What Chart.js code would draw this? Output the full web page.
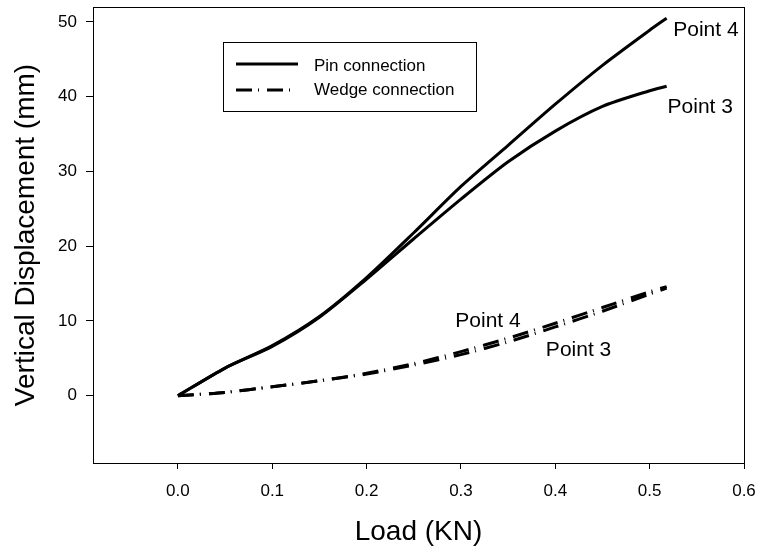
<!DOCTYPE html>
<html>
<head>
<meta charset="utf-8">
<script src="https://cdn.jsdelivr.net/npm/chart.js@4.4.1/dist/chart.umd.min.js"></script>
<style>
  html, body { margin: 0; padding: 0; background: #fff; }
  #wrap { width: 758px; height: 549px; position: relative; }
</style>
</head>
<body>
<div id="wrap"><canvas id="chart"></canvas></div>
<script>
// load values (KN)
const loads = [0, 0.05, 0.1, 0.15, 0.2, 0.25, 0.3, 0.35, 0.4, 0.45, 0.5, 0.518];

// vertical displacement (mm)
const pinPoint4 = [0, 3.7, 6.7, 10.6, 15.8, 21.8, 28.0, 33.5, 39.0, 44.2, 48.9, 50.5];
const pinPoint3 = [0, 3.7, 6.6, 10.5, 15.6, 21.0, 26.3, 31.3, 35.4, 38.7, 40.8, 41.4];
const wedgePoint4 = [0, 0.45, 1.2, 2.0, 3.0, 4.3, 5.9, 7.7, 9.7, 11.8, 13.9, 14.6];
const wedgePoint3 = [0, 0.45, 1.2, 2.0, 2.9, 4.1, 5.5, 7.2, 9.2, 11.3, 13.6, 14.4];

const xTicks = [0, 0.1, 0.2, 0.3, 0.4, 0.5, 0.6];
const yTicks = [0, 10, 20, 30, 40, 50];

// curve labels: [text, load, displacement] (text left edge / baseline)
const curveLabels = [
  ['Point 4', 0.525, 48.1],
  ['Point 3', 0.519, 37.8],
  ['Point 4', 0.294, 9.2],
  ['Point 3', 0.390, 5.3]
];

const FONT = "'Liberation Sans', Arial, sans-serif";
const dashDot = [16, 6, 1, 8];

const toXY = (ys) => loads.map((x, i) => ({ x: x, y: ys[i] }));

const lineDs = (label, ys, dash) => ({
  label: label,
  data: toXY(ys),
  showLine: true,
  borderColor: '#000',
  borderWidth: 3,
  borderDash: dash,
  pointRadius: 0,
  tension: 0.25,
  fill: false
});

const framePlugin = {
  id: 'frame',
  afterDraw(chart) {
    const { ctx, chartArea: a, scales } = chart;
    ctx.save();
    ctx.strokeStyle = '#000';
    ctx.lineWidth = 1;
    ctx.strokeRect(a.left + 0.5, a.top + 0.5, a.right - a.left, a.bottom - a.top);

    // curve labels
    ctx.fillStyle = '#000';
    ctx.font = '21px ' + FONT;
    ctx.textBaseline = 'alphabetic';
    ctx.textAlign = 'left';
    curveLabels.forEach(([t, x, y]) => {
      ctx.fillText(t, scales.x.getPixelForValue(x), scales.y.getPixelForValue(y));
    });

    // legend box
    const bx = a.left + 130, by = a.top + 35, bw = 253, bh = 69;
    ctx.lineWidth = 1;
    ctx.strokeRect(bx + 0.5, by + 0.5, bw, bh);
    ctx.lineWidth = 3;
    ctx.beginPath();
    ctx.moveTo(bx + 13, by + 22);
    ctx.lineTo(bx + 75, by + 22);
    ctx.stroke();
    ctx.setLineDash(dashDot);
    ctx.beginPath();
    ctx.moveTo(bx + 13, by + 48);
    ctx.lineTo(bx + 75, by + 48);
    ctx.stroke();
    ctx.setLineDash([]);
    ctx.font = '17px ' + FONT;
    ctx.fillText('Pin connection', bx + 91, by + 29);
    ctx.fillText('Wedge connection', bx + 91, by + 53);
    ctx.restore();
  }
};

new Chart(document.getElementById('chart'), {
  type: 'scatter',
  data: {
    datasets: [
      lineDs('Pin connection', pinPoint4, []),
      lineDs('Pin connection', pinPoint3, []),
      lineDs('Wedge connection', wedgePoint4, dashDot),
      lineDs('Wedge connection', wedgePoint3, dashDot)
    ]
  },
  options: {
    responsive: true,
    maintainAspectRatio: false,
    animation: false,
    layout: { padding: { top: 7, right: 14, left: 0, bottom: 0 } },
    plugins: {
      legend: { display: false },
      tooltip: { enabled: false }
    },
    scales: {
      x: {
        type: 'linear',
        min: -0.09,
        max: 0.6,
        afterFit: (s) => { s.height = 86; s.paddingLeft = 0; s.paddingRight = 0; },
        afterBuildTicks: (s) => { s.ticks = xTicks.map(v => ({ value: v })); },
        grid: { drawOnChartArea: false, drawTicks: true, tickLength: 6, color: '#000' },
        border: { display: false },
        ticks: {
          color: '#000',
          padding: 12,
          maxRotation: 0,
          font: { family: FONT, size: 17 },
          callback: (v) => Number(v).toFixed(1)
        },
        title: {
          display: true,
          text: 'Load (KN)',
          color: '#000',
          font: { family: FONT, size: 28 },
          padding: { top: 0, bottom: 0 }
        }
      },
      y: {
        type: 'linear',
        min: -9,
        max: 52,
        afterFit: (s) => { s.width = 93; s.paddingTop = 0; s.paddingBottom = 0; },
        afterBuildTicks: (s) => { s.ticks = yTicks.map(v => ({ value: v })); },
        grid: { drawOnChartArea: false, drawTicks: true, tickLength: 7, color: '#000' },
        border: { display: false },
        ticks: {
          color: '#000',
          padding: 9,
          font: { family: FONT, size: 17 },
          callback: (v) => String(v)
        },
        title: {
          display: true,
          text: 'Vertical Displacement (mm)',
          color: '#000',
          font: { family: FONT, size: 28 },
          padding: { top: 9, bottom: 0 }
        }
      }
    }
  },
  plugins: [framePlugin]
});
</script>
</body>
</html>
